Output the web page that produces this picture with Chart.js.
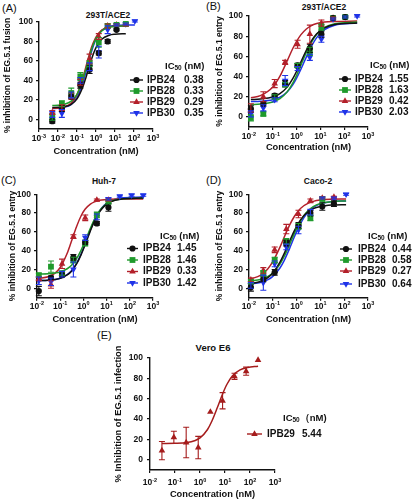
<!DOCTYPE html>
<html>
<head>
<meta charset="utf-8">
<script src="https://cdn.jsdelivr.net/npm/chart.js@4.4.0/dist/chart.umd.min.js"></script>
<style>
  body { margin: 0; background: #fff; width: 416px; height: 500px; position: relative; overflow: hidden;
         font-family: "Liberation Sans", Arial, sans-serif; color: #111; }
  canvas { position: absolute; }
  .tag { position: absolute; font-size: 11px; line-height: 11px; }
  .ttl { position: absolute; font-size: 8.5px; font-weight: bold; white-space: nowrap; transform: translate(-50%, -50%); }
</style>
</head>
<body>
<div class="tag" style="left:2px;top:3px">(A)</div>
<div class="tag" style="left:206px;top:1px">(B)</div>
<div class="tag" style="left:1px;top:175px">(C)</div>
<div class="tag" style="left:206px;top:175px">(D)</div>
<div class="tag" style="left:97px;top:330px">(E)</div>
<div class="ttl" style="left:108px;top:15px">293T/ACE2</div>
<div class="ttl" style="left:324px;top:7px">293T/ACE2</div>
<div class="ttl" style="left:104px;top:181px">Huh-7</div>
<div class="ttl" style="left:318px;top:181px">Caco-2</div>
<div class="ttl" style="left:213px;top:347px;font-size:9.5px">Vero E6</div>

<canvas id="chartA" width="210" height="160" style="left:0;top:0"></canvas>
<canvas id="chartB" width="211" height="160" style="left:205px;top:0"></canvas>
<canvas id="chartC" width="210" height="170" style="left:0;top:160px"></canvas>
<canvas id="chartD" width="211" height="170" style="left:205px;top:160px"></canvas>
<canvas id="chartE" width="336" height="170" style="left:80px;top:330px"></canvas>

<script>
const FONT = '"Liberation Sans", Arial, sans-serif';
Chart.defaults.font.family = FONT;
Chart.defaults.color = '#111';

// shared
const compounds = ['IPB24', 'IPB28', 'IPB29', 'IPB30'];
const yTicks = [0, 20, 40, 60, 80, 100];
const xTicks3 = [0.001, 0.01, 0.1, 1, 10, 100, 1000];
const xTicks2 = [0.01, 0.1, 1, 10, 100, 1000];

// (A) 293T/ACE2 fusion
const aConc = [0.005, 0.016, 0.05, 0.15, 0.46, 1.4, 4.1, 12, 37, 111];
const aIPB24 = [-2, 11, 23, 35, 51, 68, 80, 92];
const aIPB24Err = [2, 3, 2, 3, 4, 2, 2, 1];
const aIPB28 = [2, 16, 27, 44, 57, 79, 96, 97, 98];
const aIPB28Err = [3, 3, 5, 4, 3, 5, 2, 1, 1];
const aIPB29 = [7, 12, 24, 38, 62, 85, 96, 97, 97];
const aIPB29Err = [2, 3, 3, 3, 5, 3, 2, 1, 1];
const aIPB30 = [5, 6, 25, 40, 54, 69, 92, 97, 98, 101];
const aIPB30Err = [3, 4, 3, 3, 4, 6, 4, 1, 1, 1];
const aFitX = [0.005, 0.01, 0.02, 0.05, 0.1, 0.2, 0.3, 0.5, 0.7, 1, 2, 5, 10, 37, 111];
const aFitIPB24 = [12.1, 12.3, 12.9, 15.4, 21, 33, 43.3, 57.7, 66.3, 73.6, 82.2, 86.4, 87.4, 88];
const aFitIPB28 = [14.2, 14.4, 15.2, 18.6, 25.7, 40.3, 52, 67.4, 76, 82.9, 90.8, 94.6, 95.5, 96];
const aFitIPB29 = [11.2, 11.5, 12.5, 16.7, 25.3, 42, 54.6, 70, 78, 84.5, 91.6, 94.8, 95.6, 96];
const aFitIPB30 = [11.1, 11.4, 12.2, 15.4, 22.4, 37, 49, 65.2, 74.5, 82.3, 91.2, 95.4, 96.5, 97, 97];
const aIC50 = ['0.38', '0.33', '0.29', '0.35'];

// (B) 293T/ACE2 entry
const bConc = [0.012, 0.04, 0.12, 0.33, 1.1, 3.6, 11, 34, 110, 350];
const bIPB24 = [8, 13, 21, 33, 51, 68, 82, 98, 99];
const bIPB24Err = [3, 2, 2, 3, 2, 4, 3, 1, 1];
const bIPB28 = [-1, 3, 20, 32, 51, 65, 89, 98, 99];
const bIPB28Err = [3, 2, 2, 2, 2, 4, 3, 1, 1];
const bIPB29 = [9, 20, 33, 54, 72, 82, 93, 98];
const bIPB29Err = [4, 5, 4, 2, 4, 9, 3, 1];
const bIPB30 = [3, 9, 17, 36, 48, 59, 77, 97, 99, 100];
const bIPB30Err = [3, 3, 2, 5, 2, 3, 3, 1, 1, 1];
const bFitX = [0.012, 0.03, 0.1, 0.2, 0.4, 0.7, 1, 1.5, 2.5, 4, 7, 15, 40, 350];
const bFitIPB24 = [17.2, 17.7, 19.7, 23, 29.5, 38.1, 45.2, 54.3, 65.6, 74.6, 82.4, 88.3, 91.5, 93];
const bFitIPB28 = [12.2, 12.7, 14.8, 18.1, 24.8, 33.8, 41.3, 51, 63.3, 73.2, 81.9, 88.7, 92.3, 94];
const bFitIPB29 = [19.1, 21.1, 29.7, 40.4, 55.4, 68, 74.9, 81.3, 86.9, 90.2, 92.5, 94, 94.6, 95];
const bFitIPB30 = [15.2, 15.5, 17, 19.5, 24.7, 32, 38.4, 47, 58.8, 69, 78.6, 86.5, 90.9, 93];
const bIC50 = ['1.55', '1.63', '0.42', '2.03'];

// (C) Huh-7 entry
const cConc = [0.012, 0.04, 0.12, 0.37, 1.2, 3.8, 12, 37, 120, 380];
const cIPB24 = [-3, 11, 14, 33, 49, 69, 86];
const cIPB24Err = [5, 2, 2, 3, 2, 2, 4];
const cIPB28 = [14, 23, 16, 30, 48, 78, 92];
const cIPB28Err = [2, 6, 2, 3, 3, 3, 2];
const cIPB29 = [10, 4, 26, 55, 75, 94, 94];
const cIPB29Err = [2, 4, 5, 2, 3, 1, 1];
const cIPB30 = [8, 7, 15, 20, 54, 76, 95, 98, 99, 99];
const cIPB30Err = [4, 4, 3, 8, 3, 3, 1, 1, 1, 1];
const cFitX = [0.012, 0.03, 0.06, 0.1, 0.2, 0.3, 0.5, 0.8, 1.2, 2, 3, 5, 8, 15, 40, 380];
const cFitIPB24 = [8.2, 8.6, 9.4, 10.6, 14.2, 18, 25.6, 35.8, 46.6, 61.1, 71.4, 81.3, 87.4, 92, 94.8, 96];
const cFitIPB28 = [15.2, 15.5, 16.3, 17.4, 20.8, 24.2, 31.2, 40.6, 50.6, 63.8, 73.3, 82.5, 88, 92.3, 94.9, 96];
const cFitIPB29 = [10.6, 12.3, 16.1, 22.1, 37.2, 49.4, 65.3, 77.2, 84.3, 89.6, 92, 93.6, 94.3, 94.7, 95, 95];
const cFitIPB30 = [8.2, 8.6, 9.4, 10.7, 14.5, 18.4, 26.3, 36.6, 47.8, 62.3, 72.6, 82.4, 88.5, 93, 95.8, 97];
const cIC50 = ['1.45', '1.46', '0.33', '1.42'];

// (D) Caco-2 entry
const dConc = [0.012, 0.04, 0.12, 0.37, 1.2, 3.8, 12, 37, 120];
const dIPB24 = [1, 10, 17, 48, 67, 80, 87, 90];
const dIPB24Err = [4, 3, 3, 3, 3, 3, 4, 3];
const dIPB28 = [7, 16, 30, 50, 66, 75, 95];
const dIPB28Err = [2, 3, 3, 3, 3, 3, 1];
const dIPB29 = [9, 19, 41, 63, 79, 93, 96, 97];
const dIPB29Err = [2, 3, 3, 5, 4, 2, 1, 1];
const dIPB30 = [3, 6, 26, 44, 62, 81, 96, 96, 100];
const dIPB30Err = [3, 8, 3, 3, 4, 3, 1, 1, 1];
const dFitX = [0.012, 0.03, 0.06, 0.1, 0.2, 0.3, 0.5, 0.8, 1.2, 2, 3, 5, 10, 30, 120];
const dFitIPB24 = [5.1, 7.3, 11.1, 16.3, 27.8, 36.9, 49.8, 61.1, 69.4, 77.1, 81.3, 84.7, 87, 88.5, 89];
const dFitIPB28 = [7.8, 9.4, 12.3, 16.3, 25.8, 33.8, 46.2, 58.2, 67.6, 77.1, 82.5, 87, 90.2, 92.2, 93];
const dFitIPB29 = [10, 13.8, 20.3, 28.3, 43.8, 54.3, 66.9, 76.4, 82.6, 87.8, 90.4, 92.5, 93.9, 94.7, 95];
const dFitIPB30 = [4.7, 6.2, 8.9, 12.7, 21.6, 29.5, 41.9, 54.5, 64.5, 74.9, 81, 86, 89.8, 92.1, 93];
const dIC50 = ['0.44', '0.58', '0.27', '0.64'];

// (E) Vero E6 infection, IPB29 only
const eConc = [0.03, 0.09, 0.28, 0.85, 2.6, 8, 24, 70, 210];
const eIPB29 = [9, 22, 17, 12, 47, 58, 82, 87, 98];
const eIPB29Err = [9, 6, 15, 11, 0, 8, 3, 4, 0];
const eFitX = [0.03, 0.1, 0.3, 0.6, 1, 2, 3, 5, 8, 12, 20, 40, 80, 210];
const eFitIPB29 = [16, 16.2, 17, 18.7, 21.5, 29.8, 38.1, 51.6, 64.7, 74.2, 82.6, 88.4, 90.7, 92];
const eIC50 = ['5.44'];

const styles = [
  { color: '#111111', shape: 'circle', rot: 0, r: 3.1 },
  { color: '#1f9a2c', shape: 'rect', rot: 0, r: 4.1 },
  { color: '#b3202a', shape: 'triangle', rot: 0, r: 3.8 },
  { color: '#1f33e8', shape: 'triangle', rot: 180, r: 3.8 }
];
const styleE = [{ color: '#a51c1c', shape: 'triangle', rot: 0, r: 3.8 }];

function drawMarker(ctx, st, x, y) {
  ctx.fillStyle = st.color;
  ctx.strokeStyle = st.color;
  Chart.helpers.drawPoint(ctx, { pointStyle: st.shape, rotation: st.rot, radius: st.r, borderWidth: 0 }, x, y);
}

// vertical SD bars with caps
const errorBars = {
  id: 'errorBars',
  afterDatasetsDraw(chart) {
    const ctx = chart.ctx, ys = chart.scales.y;
    chart.data.datasets.forEach((ds, i) => {
      if (!ds.errors) return;
      const meta = chart.getDatasetMeta(i);
      ctx.save();
      ctx.strokeStyle = ds.borderColor;
      ctx.lineWidth = 1.1;
      meta.data.forEach((pt, j) => {
        const e = ds.errors[j];
        if (!e) return;
        const v = ds.data[j].y;
        const y1 = ys.getPixelForValue(v - e), y2 = ys.getPixelForValue(v + e);
        ctx.beginPath();
        ctx.moveTo(pt.x, y1); ctx.lineTo(pt.x, y2);
        ctx.moveTo(pt.x - 3, y1); ctx.lineTo(pt.x + 3, y1);
        ctx.moveTo(pt.x - 3, y2); ctx.lineTo(pt.x + 3, y2);
        ctx.stroke();
      });
      ctx.restore();
    });
  }
};

// "10" with raised exponent under each decade
function xLabels(p) {
  return {
    id: 'xLabels',
    afterDraw(chart) {
      const ctx = chart.ctx, xs = chart.scales.x;
      const y = chart.chartArea.bottom + p.labelGap;
      ctx.save();
      ctx.fillStyle = '#111';
      ctx.textBaseline = 'middle';
      ctx.textAlign = 'left';
      p.xTicks.forEach(v => {
        const e = String(Math.round(Math.log10(v)));
        ctx.font = 'bold 8.5px ' + FONT;
        const w1 = ctx.measureText('10').width;
        ctx.font = 'bold 5.5px ' + FONT;
        const w2 = ctx.measureText(e).width;
        const x0 = xs.getPixelForValue(v) - (w1 + w2) / 2;
        ctx.font = 'bold 8.5px ' + FONT;
        ctx.fillText('10', x0, y);
        ctx.font = 'bold 5.5px ' + FONT;
        ctx.fillText(e, x0 + w1, y - 3);
      });
      ctx.restore();
    }
  };
}

// IC50 legend
function icLegend(p) {
  return {
    id: 'icLegend',
    afterDraw(chart) {
      const ctx = chart.ctx, L = p.legend;
      ctx.save();
      ctx.textBaseline = 'middle';
      ctx.textAlign = 'left';
      ctx.fillStyle = '#111';
      ctx.font = 'bold 9.5px ' + FONT;
      ctx.fillText('IC', L.hx, L.hy);
      let x = L.hx + ctx.measureText('IC').width;
      ctx.font = 'bold 6.5px ' + FONT;
      ctx.fillText('50', x, L.hy + 2.5);
      x += ctx.measureText('50').width;
      ctx.font = 'bold 9.5px ' + FONT;
      ctx.fillText(p.unit, x, L.hy);
      p.names.forEach((name, k) => {
        const st = p.styles[k], y = L.ys[k];
        ctx.strokeStyle = st.color;
        ctx.lineWidth = 1.4;
        ctx.beginPath();
        ctx.moveTo(L.x1, y); ctx.lineTo(L.x2, y);
        ctx.stroke();
        drawMarker(ctx, st, (L.x1 + L.x2) / 2, y);
        ctx.fillStyle = '#111';
        ctx.font = 'bold 10px ' + FONT;
        ctx.fillText(name, L.tx, y);
        ctx.fillText(p.ic50[k], L.vx, y);
      });
      ctx.restore();
    }
  };
}

function buildChart(id, p) {
  const cv = document.getElementById(id);
  const W = cv.width, H = cv.height, A = p.area;
  const datasets = [];
  p.vals.forEach((vals, k) => {
    const st = p.styles[k];
    datasets.push({
      type: 'scatter',
      data: vals.map((y, i) => ({ x: p.conc[i], y: y })),
      errors: p.errs[k],
      pointStyle: st.shape, rotation: st.rot, pointRadius: st.r, pointHoverRadius: st.r,
      backgroundColor: st.color, borderColor: st.color, borderWidth: 0,
      showLine: false, clip: false
    });
  });
  p.fits.forEach((f, k) => {
    const st = p.styles[k];
    datasets.push({
      type: 'line',
      data: f.map((y, i) => ({ x: p.fitX[i], y: y })),
      borderColor: st.color, borderWidth: 1.5, pointRadius: 0,
      cubicInterpolationMode: 'monotone', fill: false, clip: false
    });
  });

  const axisGrid = { display: true, drawOnChartArea: false, drawTicks: true, tickLength: 3, color: '#111', lineWidth: 1.2 };
  const axisBorder = { display: true, color: '#111', width: 1.4 };

  return new Chart(cv, {
    type: 'scatter',
    data: { datasets },
    options: {
      responsive: false,
      animation: false,
      devicePixelRatio: 1,
      layout: { padding: { left: 0, top: A.top, right: W - A.right, bottom: 0 } },
      plugins: { legend: { display: false }, tooltip: { enabled: false } },
      scales: {
        x: {
          type: 'logarithmic', min: p.xTicks[0], max: 1000,
          afterBuildTicks: s => { s.ticks = p.xTicks.map(v => ({ value: v })); },
          afterFit: s => { s.height = H - A.bottom; },
          ticks: { display: false },
          grid: axisGrid, border: axisBorder,
          title: { display: true, text: 'Concentration (nM)', color: '#111',
                   font: { size: 9.3, weight: 'bold' }, padding: { top: 0, bottom: p.xTitlePad } }
        },
        y: {
          min: -10, max: 100,
          afterBuildTicks: s => { s.ticks = yTicks.map(v => ({ value: v })); },
          afterFit: s => { s.width = A.left; },
          ticks: { font: { size: 8.5, weight: 'bold' }, padding: p.tickPad, color: '#111' },
          grid: axisGrid, border: axisBorder,
          title: { display: true, text: p.yTitle, color: '#111',
                   font: { size: p.yTitleSize, weight: 'bold' }, padding: { top: p.yTitlePad, bottom: 0 } }
        }
      }
    },
    plugins: [errorBars, xLabels(p), icLegend(p)]
  });
}

buildChart('chartA', {
  conc: aConc, vals: [aIPB24, aIPB28, aIPB29, aIPB30], errs: [aIPB24Err, aIPB28Err, aIPB29Err, aIPB30Err],
  fitX: aFitX, fits: [aFitIPB24, aFitIPB28, aFitIPB29, aFitIPB30],
  names: compounds, ic50: aIC50, styles: styles, unit: ' (nM)', xTicks: xTicks3,
  area: { left: 39, right: 153, top: 22, bottom: 129 }, labelGap: 10, xTitlePad: 3.4, tickPad: 3,
  yTitle: '% inhibition of EG.5.1 fusion', yTitleSize: 8.5, yTitlePad: 2.9,
  legend: { hx: 165, hy: 66, ys: [80, 91, 102, 113], x1: 130, x2: 143, tx: 147, vx: 184 }
});

buildChart('chartB', {
  conc: bConc, vals: [bIPB24, bIPB28, bIPB29, bIPB30], errs: [bIPB24Err, bIPB28Err, bIPB29Err, bIPB30Err],
  fitX: bFitX, fits: [bFitIPB24, bFitIPB28, bFitIPB29, bFitIPB30],
  names: compounds, ic50: bIC50, styles: styles, unit: ' (nM)', xTicks: xTicks2,
  area: { left: 44, right: 163, top: 16, bottom: 127 }, labelGap: 10, xTitlePad: 7.4, tickPad: 3,
  yTitle: '% inhibition of EG.5.1 entry', yTitleSize: 8.5, yTitlePad: 9.9,
  legend: { hx: 165, hy: 65, ys: [79, 90, 101, 112], x1: 134, x2: 146, tx: 150, vx: 184 }
});

buildChart('chartC', {
  conc: cConc, vals: [cIPB24, cIPB28, cIPB29, cIPB30], errs: [cIPB24Err, cIPB28Err, cIPB29Err, cIPB30Err],
  fitX: cFitX, fits: [cFitIPB24, cFitIPB28, cFitIPB29, cFitIPB30],
  names: compounds, ic50: cIC50, styles: styles, unit: ' (nM)', xTicks: xTicks2,
  area: { left: 37, right: 153, top: 34.3, bottom: 137.7 }, labelGap: 9, xTitlePad: 4.9, tickPad: 3,
  yTitle: '% inhibition of EG.5.1 entry', yTitleSize: 8.5, yTitlePad: 7.6,
  legend: { hx: 160, hy: 76, ys: [88.5, 100, 111.5, 123], x1: 127, x2: 138, tx: 143, vx: 177 }
});

buildChart('chartD', {
  conc: dConc, vals: [dIPB24, dIPB28, dIPB29, dIPB30], errs: [dIPB24Err, dIPB28Err, dIPB29Err, dIPB30Err],
  fitX: dFitX, fits: [dFitIPB24, dFitIPB28, dFitIPB29, dFitIPB30],
  names: compounds, ic50: dIC50, styles: styles, unit: ' (nM)', xTicks: xTicks2,
  area: { left: 44, right: 163, top: 34.3, bottom: 137.7 }, labelGap: 9, xTitlePad: 4.9, tickPad: 3,
  yTitle: '% inhibition of EG.5.1 entry', yTitleSize: 8.5, yTitlePad: 9.9,
  legend: { hx: 163, hy: 76, ys: [89, 100, 111, 124], x1: 135, x2: 147, tx: 153, vx: 187 }
});

buildChart('chartE', {
  conc: eConc, vals: [eIPB29], errs: [eIPB29Err],
  fitX: eFitX, fits: [eFitIPB29],
  names: ['IPB29'], ic50: eIC50, styles: styleE, unit: '（nM)', xTicks: xTicks2,
  area: { left: 70, right: 195, top: 28, bottom: 140 }, labelGap: 13, xTitlePad: 0.4, tickPad: 4,
  yTitle: '% Inhibition of EG.5.1 infection', yTitleSize: 9.3, yTitlePad: 32.6,
  legend: { hx: 203, hy: 88, ys: [104], x1: 167, x2: 182, tx: 187, vx: 222 }
});
</script>
</body>
</html>
